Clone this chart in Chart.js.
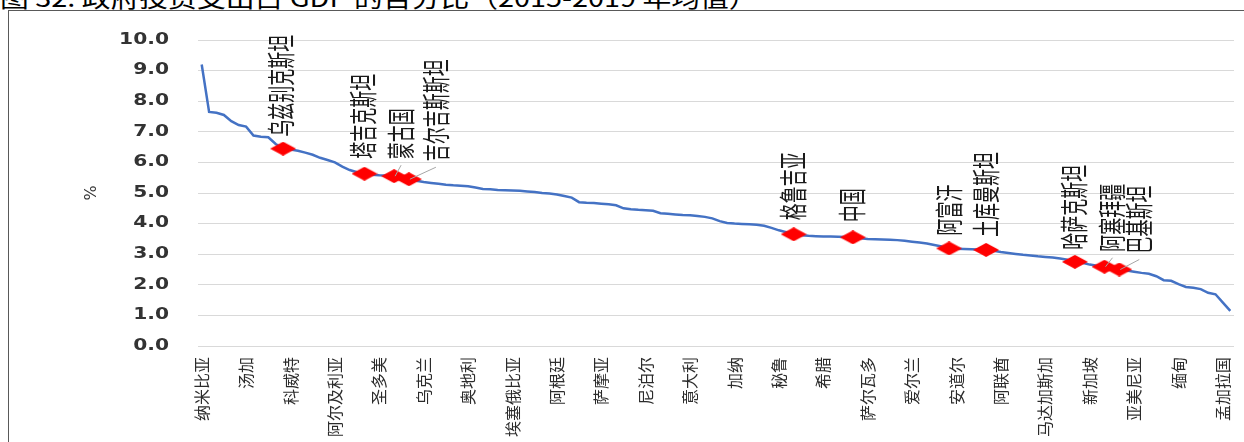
<!DOCTYPE html>
<html>
<head>
<meta charset="utf-8">
<script src="https://cdn.jsdelivr.net/npm/chart.js@4.4.1/dist/chart.umd.min.js"></script>
<style>
  html, body { margin: 0; padding: 0; background: #fff; }
  #wrap { position: relative; width: 1244px; height: 442px; overflow: hidden; }
  #title { position: absolute; left: 0; top: -21px; font: 24px "Noto Sans CJK SC"; white-space: nowrap;
           color: #000; transform-origin: 0 0; transform: scaleX(1.2); }
  #frame { position: absolute; left: 8px; top: 10px; right: -10px; bottom: -10px; border: 1px solid #595959; }
  canvas { position: absolute; left: 0; top: 0; }
</style>
</head>
<body>
<div id="wrap">
  <div id="title">图 32: 政府投资支出占 GDP 的百分比（2015-2019 年均值）</div>
  <div id="frame"></div>
  <canvas id="chart" width="1244" height="442"></canvas>
</div>
<script>
// ===== 政府投资支出占GDP比重，按国家降序 =====
const values = [
  9.20, 7.65, 7.62, 7.55, 7.35, 7.22, 7.17, 6.88, 6.84, 6.82,
  6.60, 6.45, 6.42, 6.38, 6.32, 6.25, 6.15, 6.08, 6.00, 5.86,
  5.75, 5.68, 5.63, 5.60, 5.58, 5.57, 5.55, 5.50, 5.45, 5.40,
  5.36, 5.33, 5.30, 5.27, 5.25, 5.24, 5.22, 5.18, 5.13, 5.12,
  5.10, 5.09, 5.08, 5.07, 5.05, 5.03, 5.00, 4.98, 4.95, 4.90,
  4.85, 4.70, 4.68, 4.67, 4.65, 4.63, 4.60, 4.50, 4.47, 4.45,
  4.44, 4.42, 4.34, 4.32, 4.30, 4.28, 4.27, 4.25, 4.22, 4.17,
  4.08, 4.02, 4.00, 3.99, 3.98, 3.96, 3.93, 3.86, 3.78, 3.72,
  3.65, 3.62, 3.60, 3.59, 3.58, 3.58, 3.57, 3.56, 3.55, 3.52,
  3.50, 3.49, 3.48, 3.47, 3.46, 3.44, 3.41, 3.38, 3.35, 3.30,
  3.25, 3.19, 3.18, 3.17, 3.16, 3.15, 3.14, 3.11, 3.07, 3.04,
  3.01, 2.98, 2.96, 2.93, 2.91, 2.89, 2.86, 2.82, 2.75, 2.72,
  2.66, 2.62, 2.59, 2.55, 2.50, 2.47, 2.43, 2.39, 2.36, 2.28,
  2.15, 2.13, 2.02, 1.93, 1.90, 1.86, 1.74, 1.69, 1.42, 1.15
];

// 坐标轴上每隔 6 个国家显示一个名称
const labelStep = 6;
const axisNames = [
  "纳米比亚", "汤加", "科威特", "阿尔及利亚", "圣多美", "乌克兰", "奥地利", "埃塞俄比亚",
  "阿根廷", "萨摩亚", "尼泊尔", "意大利", "加纳", "秘鲁", "希腊", "萨尔瓦多",
  "爱尔兰", "安道尔", "阿联酋", "马达加斯加", "新加坡", "亚美尼亚", "缅甸", "孟加拉国"
];

// 标红的国家及其在排序中的位置
const markNames = ["乌兹别克斯坦", "塔吉克斯坦", "蒙古国", "吉尔吉斯斯坦", "格鲁吉亚", "中国",
                   "阿富汗", "土库曼斯坦", "哈萨克斯坦", "阿塞拜疆", "巴基斯坦"];
const markIndex = [11, 22, 26, 28, 80, 88, 101, 106, 118, 122, 124];

const yTicks = [0, 1, 2, 3, 4, 5, 6, 7, 8, 9, 10];

// 标注文字相对红点的偏移（像素），以及是否画引线
const markLabelOffset = [
  [-2, -12, false], [-1, -15, false], [7, -17, true], [27, -18, true], [0, -14, false], [-1, -15, false],
  [0, -13, false], [0, -13, false], [-1, -12, false], [8, -15, true], [20, -16, true]
];

const labels = values.map(() => "");
axisNames.forEach((n, j) => { labels[j * labelStep] = n; });
markNames.forEach((n, j) => { labels[markIndex[j]] = n; });

const markData = values.map((v, i) => (markIndex.includes(i) ? v : null));

// 扁菱形标记
const diamond = document.createElement("canvas");
diamond.width = 26;
diamond.height = 14;
const dctx = diamond.getContext("2d");
dctx.fillStyle = "#ff0000";
dctx.beginPath();
dctx.moveTo(13, 0);
dctx.lineTo(26, 7);
dctx.lineTo(13, 14);
dctx.lineTo(0, 7);
dctx.closePath();
dctx.fill();

// y轴刻度文字（横向拉宽）
const yLabelPlugin = {
  id: "yLabels",
  afterDraw(chart) {
    const ys = chart.scales.y;
    const ctx = chart.ctx;
    ctx.save();
    ctx.font = 'bold 15px "DejaVu Sans"';
    ctx.fillStyle = "#333";
    ctx.textAlign = "right";
    ctx.textBaseline = "middle";
    ys.ticks.forEach((t) => {
      ctx.save();
      ctx.translate(chart.chartArea.left - 29, ys.getPixelForValue(t.value));
      ctx.scale(1.35, 1);
      ctx.fillText(t.value.toFixed(1), 0, 0);
      ctx.restore();
    });
    ctx.restore();
  }
};

// 红点上方的竖排国家名
const markLabelPlugin = {
  id: "markLabels",
  afterDatasetsDraw(chart) {
    const xs = chart.scales.x, ys = chart.scales.y, ctx = chart.ctx;
    ctx.save();
    markIndex.forEach((idx, j) => {
      const px = xs.getPixelForValue(idx);
      const py = ys.getPixelForValue(values[idx]);
      const [dx, dy, leader] = markLabelOffset[j];
      const ax = px + dx, ay = py + dy;
      if (leader) {
        ctx.strokeStyle = "#a6a6a6";
        ctx.lineWidth = 1;
        ctx.beginPath();
        ctx.moveTo(px + 1, py);
        ctx.lineTo(ax, ay + 6);
        ctx.stroke();
      }
      ctx.save();
      ctx.translate(ax, ay);
      ctx.rotate(-Math.PI / 2);
      ctx.scale(1, 1.65);
      ctx.font = '17px "Noto Sans CJK SC"';
      ctx.fillStyle = "#1a1a1a";
      ctx.textAlign = "left";
      ctx.textBaseline = "middle";
      ctx.fillText(markNames[j], 0, 0);
      ctx.restore();
    });
    ctx.restore();
  }
};

const ctx = document.getElementById("chart").getContext("2d");

new Chart(ctx, {
  type: "line",
  data: {
    labels: labels,
    datasets: [
      {
        data: markData,
        showLine: false,
        pointStyle: diamond,
        pointRadius: 8,
        pointHoverRadius: 8,
        order: 0
      },
      {
        data: values,
        borderColor: "#4472c4",
        borderWidth: 2.5,
        pointRadius: 0,
        tension: 0,
        fill: false,
        order: 1
      }
    ]
  },
  options: {
    responsive: false,
    animation: false,
    events: [],
    layout: { padding: { top: 40, right: 10, bottom: 0, left: 0 } },
    plugins: {
      legend: { display: false },
      tooltip: { enabled: false }
    },
    scales: {
      x: {
        type: "category",
        offset: true,
        grid: { display: false, drawTicks: false },
        border: { display: false },
        ticks: {
          autoSkip: false,
          minRotation: 90,
          maxRotation: 90,
          padding: 11,
          color: "#2b2b2b",
          font: { family: "Noto Sans CJK SC", size: 16 },
          callback: function (val, i) {
            return i % labelStep === 0 ? this.getLabelForValue(val) : "";
          }
        },
        afterFit: (scale) => {
          // 竖排标签不额外占用左右边距
          scale.paddingLeft = 0;
          scale.paddingRight = 0;
          scale.height = 96;
        }
      },
      y: {
        min: yTicks[0],
        max: yTicks[yTicks.length - 1],
        ticks: { stepSize: 1, display: false },
        grid: { color: "#d9d9d9", lineWidth: 1, drawTicks: false },
        border: { display: false },
        title: {
          display: true,
          text: "%",
          color: "#333",
          font: { family: "DejaVu Sans", size: 16 },
          padding: { top: 82, bottom: 0 }
        },
        afterFit: (scale) => { scale.width = 198; }
      }
    }
  },
  plugins: [yLabelPlugin, markLabelPlugin]
});
</script>
</body>
</html>
